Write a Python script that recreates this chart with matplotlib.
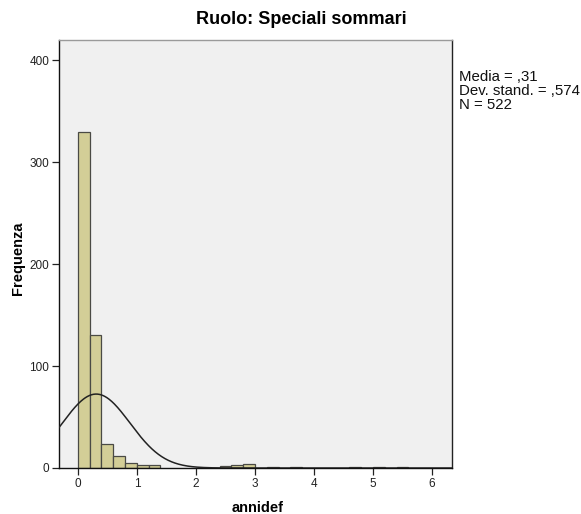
import numpy as np
import matplotlib
matplotlib.use("Agg")
import matplotlib.pyplot as plt

plt.rcParams['font.family'] = ['Liberation Sans', 'DejaVu Sans']

# Histogram of annidef, bins of width 0.2 starting at 0
bin_width = 0.2
bin_starts = [0.0, 0.2, 0.4, 0.6, 0.8, 1.0, 1.2,
              2.4, 2.6, 2.8,
              3.2, 3.6, 4.6, 5.0, 5.4]
counts = [330, 131, 24, 12, 5, 3, 3,
          2, 3, 4,
          1, 1, 1, 1, 1]

mean_val = 0.31
std_val = 0.574
n_obs = 522
x_ticks = [0, 1, 2, 3, 4, 5, 6]
y_ticks = [0, 100, 200, 300, 400]

W, H = 581, 514
fig = plt.figure(figsize=(W / 100, H / 100), dpi=100)
fig.patch.set_facecolor('white')

left, right, top, bottom = 59, 452, 40, 468
aw, ah = right - left, bottom - top
ax = fig.add_axes([left / W, 1 - bottom / H, aw / W, ah / H])
ax.set_facecolor('#F0F0F0')

ax.bar(bin_starts, counts, width=bin_width, align='edge',
       color='#D3CE97', edgecolor='#4A4A45', linewidth=0.9, zorder=2)

# Normal curve scaled to counts
xs = np.linspace(-0.33, 6.35, 600)
pdf = np.exp(-0.5 * ((xs - mean_val) / std_val) ** 2) / (std_val * np.sqrt(2 * np.pi))
ax.plot(xs, pdf * n_obs * bin_width, color='#222222', linewidth=1.1, zorder=3)

ax.set_xlim(-0.32, 6.34)
ax.set_ylim(0, 420)
ax.set_xticks(x_ticks)
ax.set_yticks(y_ticks)
ax.tick_params(axis='both', direction='out', length=5, width=0.9,
               labelsize=8.5, colors='#222222', pad=2)

for side in ['left', 'bottom']:
    ax.spines[side].set_color('#111111')
    ax.spines[side].set_linewidth(1.0)
ax.spines['right'].set_color('#222222')
ax.spines['right'].set_linewidth(1.0)
ax.spines['top'].set_color('#9A9A9A')
ax.spines['top'].set_linewidth(1.0)

ax.set_xlabel('annidef', fontsize=10.5, fontweight='bold')
ax.set_ylabel('Frequenza', fontsize=10.5, fontweight='bold')
ax.xaxis.set_label_coords((258 - left) / aw, (bottom - 508) / ah)
ax.yaxis.set_label_coords((18 - left) / aw, (bottom - 258) / ah)
ax.xaxis.label.set_va('center')
ax.yaxis.label.set_va('center')

fig.text(301 / W, 1 - 20 / H, 'Ruolo: Speciali sommari', ha='center', va='center',
         fontsize=13, fontweight='bold')

stats = 'Media = ,31\nDev. stand. = ,574\nN = 522'
fig.text(459 / W, 1 - 70 / H, stats, ha='left', va='top', fontsize=10.8,
         linespacing=0.98, color='#111111')

fig.savefig('out.png', dpi=100, facecolor='white')
